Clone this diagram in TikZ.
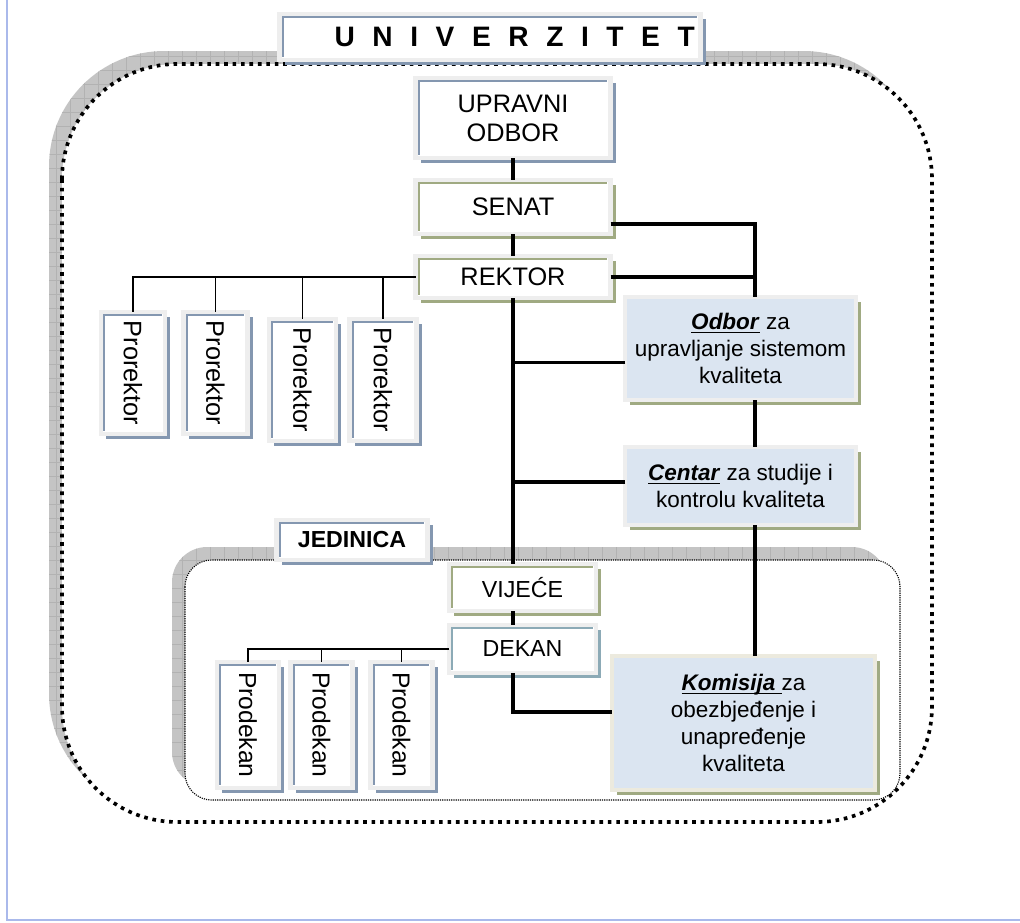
\documentclass[tikz,border=0pt]{standalone}
\usepackage{fontspec}
\setmainfont{Liberation Sans}
\usepackage{graphicx}
\usetikzlibrary{shadows}

\definecolor{bluegrey}{RGB}{132,151,176}
\definecolor{olivegrey}{RGB}{160,170,130}
\definecolor{tealgrey}{RGB}{140,170,182}
\definecolor{boxblue}{RGB}{219,229,241}
\definecolor{framegrey}{RGB}{238,238,238}
\definecolor{beige}{RGB}{236,234,222}
\definecolor{shadegrey}{RGB}{196,196,196}
\definecolor{gridgrey}{RGB}{178,178,178}
\definecolor{pageline}{RGB}{170,185,235}

\newcommand{\pxu}{0.025cm}
\newcommand{\uln}[1]{\setbox0=\hbox{#1}\rlap{\rule[-2.4pt]{\wd0}{1.1pt}}\box0\relax}

\tikzset{
  frm/.style={draw=framegrey, line width=3pt, fill=white, inner sep=0pt, outer sep=0pt, align=center,
    drop shadow={shadow xshift=3.8pt, shadow yshift=-3.8pt, fill=#1, opacity=1}},
  lbox/.style={frm=#1, path picture={\draw[#1, line width=1.4pt]
      ([shift={(2.3pt,2.3pt)}]path picture bounding box.south west) |-
      ([shift={(-2.3pt,-2.3pt)}]path picture bounding box.north east);}},
  qbox/.style={frm=olivegrey, fill=boxblue, font=\fontsize{16}{19}\selectfont},
  sz/.style 2 args={minimum width=#1*\pxu, minimum height=#2*\pxu},
  big/.style={font=\fontsize{18}{20.7}\selectfont},
  mid/.style={font=\fontsize{16.5}{19}\selectfont},
  conn/.style={line width=2.2pt},
  twig/.style={line width=1.3pt},
  dotline/.style={line width=2.6pt, dash pattern=on 2.6pt off 3.4pt},
  fineline/.style={line width=0.8pt, dash pattern=on 0.8pt off 0.8pt},
}

\begin{document}
\begin{tikzpicture}[x=0.025cm, y=-0.025cm]
\useasboundingbox (0,0) rectangle (1020,922);
\draw[pageline, line width=0.8pt] (7,0) -- (7,920) -- (1020,920);

\fill[shadegrey, rounded corners=82pt] (49,51) rectangle (919,809);
\begin{scope}
  \clip[rounded corners=82pt] (49,51) rectangle (919,809);
  \draw[gridgrey, line width=0.3pt, step=14*\pxu] (40,40) grid (930,820);
\end{scope}
\draw[dotline, fill=white, rounded corners=82pt] (62,64) rectangle (932,822);

\fill[shadegrey, rounded corners=25pt] (172,547) rectangle (887,787);
\begin{scope}
  \clip[rounded corners=25pt] (172,547) rectangle (887,787);
  \draw[gridgrey, line width=0.3pt, step=14*\pxu] (160,540) grid (900,800);
\end{scope}
\draw[fineline, fill=white, rounded corners=19pt] (185,560) rectangle (900,800);

\node[lbox=bluegrey, sz={421}{46}, font=\fontsize{20}{24}\bfseries] (univ) at (490,37)
  {\hspace*{35pt}{\spaceskip=12.5pt U N I V E R Z I T E T}};
\node[lbox=bluegrey, sz={151}{40}, font=\fontsize{16.5}{19}\bfseries] (jed) at (352,540) {JEDINICA};

\node[lbox=bluegrey, sz={195}{80}, big] (uo) at (513,118) {UPRAVNI\\ODBOR};
\node[lbox=olivegrey, sz={195}{54}, big] (senat) at (513,207) {SENAT};
\node[lbox=olivegrey, sz={195}{42}, big] (rektor) at (513,277) {REKTOR};

\node[lbox=bluegrey, sz={64}{122}, big] (pr1) at (133,373) {\rotatebox{-90}{Prorektor}};
\node[lbox=bluegrey, sz={64}{122}, big] (pr2) at (215.5,373) {\rotatebox{-90}{Prorektor}};
\node[lbox=bluegrey, sz={67}{122}, big] (pr3) at (302.5,380) {\rotatebox{-90}{Prorektor}};
\node[lbox=bluegrey, sz={67}{122}, big] (pr4) at (383,380) {\rotatebox{-90}{Prorektor}};

\node[qbox, sz={231}{103}] (odbor) at (740.5,348.5)
  {\uln{\textbf{\textit{Odbor}}} za\\upravljanje sistemom\\kvaliteta};
\node[qbox, sz={231}{78}] (centar) at (740.5,486)
  {\uln{\textbf{\textit{Centar}}} za studije i\\kontrolu kvaliteta};

\node[lbox=olivegrey, sz={147}{47}, mid] (vijece) at (522.5,587.5) {VIJEĆE};
\node[lbox=tealgrey, sz={147}{48}, mid] (dekan) at (522.5,649) {DEKAN};

\node[lbox=bluegrey, sz={62}{126}, font=\fontsize{17.5}{20}\selectfont] (pd1) at (248,725) {\rotatebox{-90}{Prodekan}};
\node[lbox=bluegrey, sz={62}{126}, font=\fontsize{17.5}{20}\selectfont] (pd2) at (321.5,725) {\rotatebox{-90}{Prodekan}};
\node[lbox=bluegrey, sz={62}{126}, font=\fontsize{17.5}{20}\selectfont] (pd3) at (401.5,725) {\rotatebox{-90}{Prodekan}};

\node[qbox, draw=beige, sz={263}{134}] (kom) at (743.5,723)
  {\uln{\textbf{\textit{Komisija }}}za\\obezbjeđenje i\\unapređenje\\kvaliteta};

\coordinate (otop) at ([xshift=14.5*\pxu]odbor.north);
\coordinate (ob) at ([yshift=-14*\pxu]odbor.west);
\coordinate (cb) at ([yshift=4*\pxu]centar.west);
\coordinate (cbot) at ([xshift=14.5*\pxu]centar.south);
\coordinate (kin) at ([yshift=11*\pxu]kom.west);

\draw[conn] (uo.south) -- (senat.north);
\draw[conn] (senat.south) -- (rektor.north);
\draw[conn] ([yshift=-17*\pxu]senat.east) -| (otop);
\draw[conn] (rektor.east) -- (rektor.east -| otop);
\draw[conn] (rektor.south) -- (rektor.south |- vijece.north);
\draw[conn] (ob) -- (ob -| rektor.south);
\draw[conn] (cb) -- (cb -| rektor.south);
\draw[conn] ([xshift=14.5*\pxu]odbor.south) -- ([xshift=14.5*\pxu]centar.north);
\draw[conn] (cbot) -- (cbot |- kom.north);
\draw[conn] (vijece.south -| rektor.south) -- (dekan.north -| rektor.south);
\draw[conn] (dekan.south -| rektor.south) |- (kin);
\foreach \p in {pr1,pr2,pr3,pr4}
  \draw[twig] (rektor.west) -| (\p.north);
\foreach \p in {pd1,pd2,pd3}
  \draw[twig] (dekan.west) -| (\p.north);
\end{tikzpicture}
\end{document}
